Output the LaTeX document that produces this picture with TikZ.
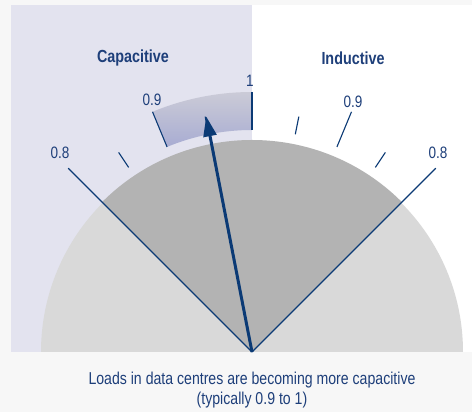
\documentclass[tikz,border=0pt]{standalone}
\usepackage{fontspec}
\setmainfont{Liberation Sans}[FakeStretch=0.82]
\usetikzlibrary{arrows.meta,calc}
\definecolor{outerbg}{HTML}{F7F7F7}
\definecolor{lav}{HTML}{E3E3EF}
\definecolor{lightg}{HTML}{D9D9D9}
\definecolor{darkg}{HTML}{B3B3B3}
\definecolor{navy}{HTML}{0B3A75}
\definecolor{txt}{HTML}{1E3F7A}
\definecolor{bandtop}{HTML}{CBCBD7}
\definecolor{bandbot}{HTML}{A8ACD2}
\tikzset{
  tick/.style={draw=navy, line width=1.1pt},
  scalelbl/.style={text=txt, font=\fontsize{16.5}{18}\selectfont, inner sep=0pt},
  headlbl/.style={text=txt, font=\bfseries\fontsize{17.5}{19}\selectfont, inner sep=0pt},
  caption/.style={text=txt, font=\fontsize{17.2}{20}\selectfont, align=center, inner sep=0pt},
  needle/.style={draw=navy, line width=3pt, -{Triangle[length=20pt,width=13pt]}}
}
\begin{document}
\begin{tikzpicture}[x=1pt,y=1pt]
\useasboundingbox (0,0) rectangle (472,412);
\fill[outerbg] (0,0) rectangle (472,412);
% panels
\fill[lav] (11,60) rectangle (252,407);
\fill[white] (252,60) rectangle (472,407);
\coordinate (c) at (252,60);
% light semicircle
\fill[lightg] ([xshift=-211pt]c) arc[start angle=180,end angle=0,radius=211pt] -- cycle;
% dark sector
\fill[darkg] (c) -- ++(135:212) arc[start angle=135,end angle=45,radius=212pt] -- cycle;
% band
\shade[top color=bandtop, bottom color=bandbot] ($(c)+(90:222)$) -- ($(c)+(90:260)$) arc[start angle=90,end angle=112.5,radius=260pt] -- ($(c)+(112.5:222)$) arc[start angle=112.5,end angle=90,radius=222pt] -- cycle;
% sector lines to 0.8
\draw[tick] (c) -- ($(c)+(135:260)$);
\draw[tick] (c) -- ($(c)+(45:260)$);
% major ticks
\foreach \a in {112.5,90,67.5} \draw[tick] ($(c)+(\a:222)$) -- ($(c)+(\a:260)$);
% minor ticks
\foreach \a in {123.75,101.25,78.75,56.25} \draw[tick] ($(c)+(\a:222)$) -- ($(c)+(\a:240)$);
% needle
\coordinate (tip) at ($(c)+(101:240)$);
\draw[needle] (c) -- (tip);
% labels
\node[scalelbl] (l08) at (60,259) {0.8};
\node[scalelbl] (l09) at (152,312) {0.9};
\node[scalelbl] (l1) at (250,331) {1};
\node[scalelbl] (r09) at (353,310) {0.9};
\node[scalelbl] (r08) at (438,259) {0.8};
\node[headlbl] (cap) at (133,354) {Capacitive};
\node[headlbl] (ind) at (353,354) {Inductive};
\node[caption] (cap2) at (252,22) {Loads in data centres are becoming more capacitive\\(typically 0.9 to 1)};
\end{tikzpicture}
\end{document}
